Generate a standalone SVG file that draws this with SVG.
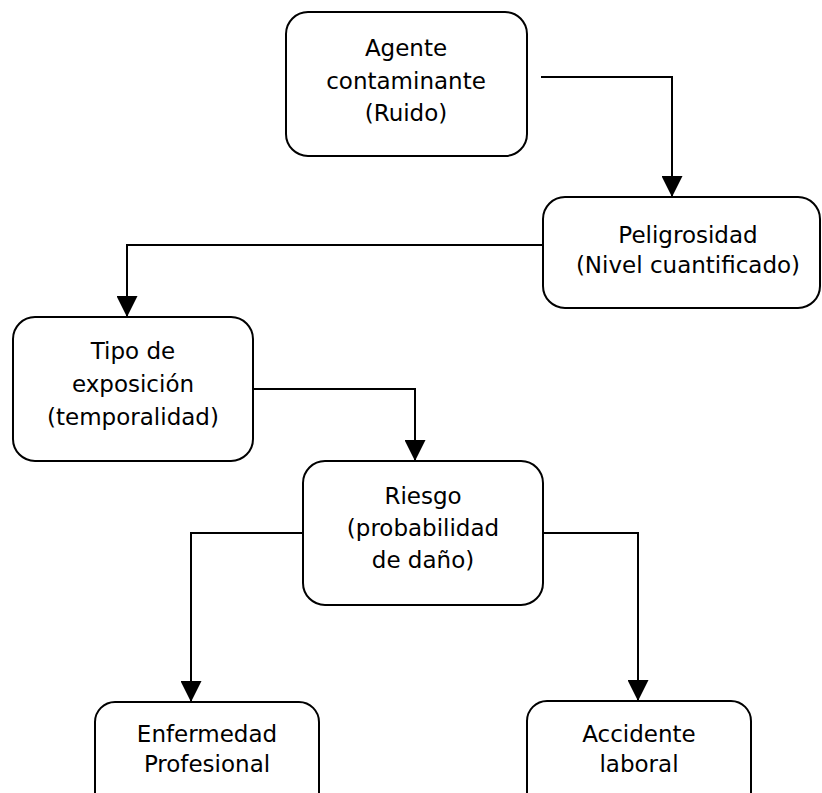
<svg xmlns="http://www.w3.org/2000/svg" width="822" height="793" viewBox="0 0 822 793">
  <style>
    .box { fill: #ffffff; stroke: #000000; stroke-width: 2; }
    .lbl { font-family: "DejaVu Sans", "Liberation Sans", sans-serif; font-size: 23px; fill: #000000; text-anchor: middle; }
    .wire { fill: none; stroke: #000000; stroke-width: 2; }
  </style>
  <defs>
    <marker id="arrow" markerUnits="userSpaceOnUse" markerWidth="21" markerHeight="21" viewBox="0 0 21 21" refX="20" refY="10.5" orient="auto">
      <path d="M0,0 L21,10.5 L0,21 Z" fill="#000000"/>
    </marker>
  </defs>
  <rect width="822" height="793" fill="#ffffff"/>

  <g id="connectors">
    <path class="wire" d="M541 77 H672 V196" marker-end="url(#arrow)"/>
    <path class="wire" d="M543 245 H127 V316" marker-end="url(#arrow)"/>
    <path class="wire" d="M253 389 H415 V460" marker-end="url(#arrow)"/>
    <path class="wire" d="M303 533 H191 V701" marker-end="url(#arrow)"/>
    <path class="wire" d="M543 533 H638 V700" marker-end="url(#arrow)"/>
  </g>

  <g id="agente">
    <rect class="box" x="286" y="12" width="241" height="144" rx="22"/>
    <text class="lbl" x="406" y="56">Agente</text>
    <text class="lbl" x="406" y="88.5">contaminante</text>
    <text class="lbl" x="406" y="121">(Ruido)</text>
  </g>

  <g id="peligrosidad">
    <rect class="box" x="543" y="197" width="277" height="111" rx="22"/>
    <text class="lbl" x="688" y="243">Peligrosidad</text>
    <text class="lbl" x="688" y="273">(Nivel cuantificado)</text>
  </g>

  <g id="tipo-exposicion">
    <rect class="box" x="13" y="317" width="240" height="144" rx="22"/>
    <text class="lbl" x="133" y="359">Tipo de</text>
    <text class="lbl" x="133" y="392">exposición</text>
    <text class="lbl" x="133" y="425">(temporalidad)</text>
  </g>

  <g id="riesgo">
    <rect class="box" x="303" y="461" width="240" height="144" rx="22"/>
    <text class="lbl" x="423" y="504">Riesgo</text>
    <text class="lbl" x="423" y="536">(probabilidad</text>
    <text class="lbl" x="423" y="568">de daño)</text>
  </g>

  <g id="enfermedad">
    <rect class="box" x="95" y="702" width="224" height="120" rx="20"/>
    <text class="lbl" x="207" y="742">Enfermedad</text>
    <text class="lbl" x="207" y="772">Profesional</text>
  </g>

  <g id="accidente">
    <rect class="box" x="527" y="701" width="224" height="120" rx="20"/>
    <text class="lbl" x="639" y="742">Accidente</text>
    <text class="lbl" x="639" y="772">laboral</text>
  </g>
</svg>
